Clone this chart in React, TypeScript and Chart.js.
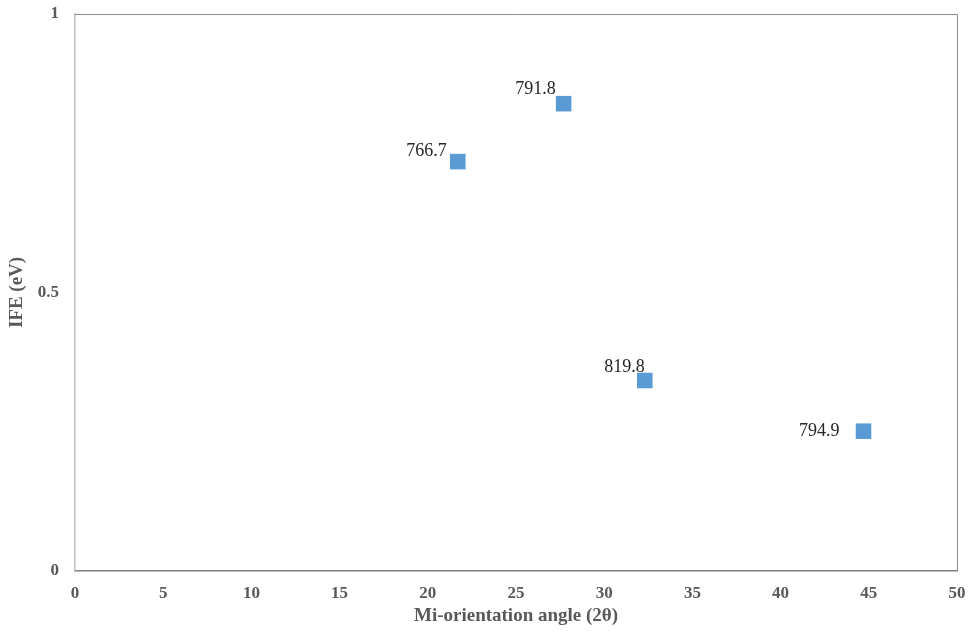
import React, { useEffect, useRef } from "react";
import { Chart, registerables } from "chart.js";

Chart.register(...registerables);

const angles = [21.7, 27.7, 32.3, 44.7];
const ifeValues = [0.735, 0.839, 0.342, 0.251];
const pointLabels = ["766.7", "791.8", "819.8", "794.9"];
const labelOffsets: [number, number][] = [
  [-11, -10],
  [-8, -14],
  [0, -13],
  [-24, 0],
];
const xTicks = [0, 5, 10, 15, 20, 25, 30, 35, 40, 45, 50];
const yTicks = [0, 0.5, 1];

const SERIF = "'Liberation Serif', 'Times New Roman', serif";

const frame = {
  id: "frame",
  afterDraw(chart: any) {
    const { ctx, chartArea: a } = chart;
    ctx.save();
    ctx.lineWidth = 1;
    ctx.strokeStyle = "#8c8c8c";
    ctx.beginPath();
    ctx.moveTo(a.left, a.top + 0.5);
    ctx.lineTo(a.right + 0.5, a.top + 0.5);
    ctx.lineTo(a.right + 0.5, a.bottom);
    ctx.stroke();
    ctx.restore();
  },
};

const dataLabels = {
  id: "dataLabels",
  afterDatasetsDraw(chart: any) {
    const { ctx } = chart;
    const meta = chart.getDatasetMeta(0);
    ctx.save();
    ctx.font = `18px ${SERIF}`;
    ctx.fillStyle = "#262626";
    ctx.textAlign = "right";
    ctx.textBaseline = "middle";
    meta.data.forEach((el: any, i: number) => {
      const [dx, dy] = labelOffsets[i];
      ctx.fillText(pointLabels[i], el.x + dx, el.y + dy);
    });
    ctx.restore();
  },
};

export default function App() {
  const ref = useRef<HTMLCanvasElement>(null);
  useEffect(() => {
    if (!ref.current) return;
    const chart = new Chart(ref.current, {
      type: "scatter",
      data: {
        datasets: [
          {
            data: angles.map((x, i) => ({ x, y: ifeValues[i] })),
            pointStyle: "rect",
            pointRadius: 11,
            pointHoverRadius: 11,
            backgroundColor: "#5b9bd5",
            borderColor: "#5b9bd5",
            borderWidth: 0,
          },
        ],
      },
      options: {
        animation: false,
        responsive: false,
        maintainAspectRatio: false,
        layout: { padding: { left: 0, right: 15, top: 14, bottom: 0 } },
        plugins: { legend: { display: false }, tooltip: { enabled: false } },
        scales: {
          x: {
            type: "linear",
            min: 0,
            max: 50,
            afterBuildTicks: (s: any) => {
              s.ticks = xTicks.map((v) => ({ value: v }));
            },
            afterFit: (s: any) => {
              s.height = 60;
              s.paddingLeft = 0;
              s.paddingRight = 0;
            },
            grid: { display: false, drawTicks: false },
            border: { display: true, color: "#7f7f7f", width: 1.5 },
            ticks: {
              padding: 12,
              color: "#595959",
              font: { family: SERIF, size: 17, weight: "bold" },
            },
            title: {
              display: true,
              text: "Mi-orientation angle (2θ)",
              color: "#595959",
              font: { family: SERIF, size: 19, weight: "bold" },
              padding: { top: 0, bottom: 4 },
            },
          },
          y: {
            type: "linear",
            min: 0,
            max: 1,
            afterBuildTicks: (s: any) => {
              s.ticks = yTicks.map((v) => ({ value: v }));
            },
            afterFit: (s: any) => {
              s.width = 75;
              s.paddingTop = 0;
              s.paddingBottom = 0;
            },
            grid: { display: false, drawTicks: false },
            border: { display: true, color: "#bfbfbf", width: 1.5 },
            ticks: {
              padding: 16,
              color: "#595959",
              font: { family: SERIF, size: 17, weight: "bold" },
              callback: (v: any) => String(v),
            },
            title: {
              display: true,
              text: "IFE (eV)",
              color: "#595959",
              font: { family: SERIF, size: 19, weight: "bold" },
              padding: { top: 6, bottom: 0 },
            },
          },
        },
      },
      plugins: [frame, dataLabels],
    });
    return () => chart.destroy();
  }, []);
  return (
    <div style={{ position: "fixed", left: 0, top: 0, width: 972, height: 631, background: "#fff" }}>
      <canvas ref={ref} width={972} height={631} style={{ display: "block" }} />
    </div>
  );
}
